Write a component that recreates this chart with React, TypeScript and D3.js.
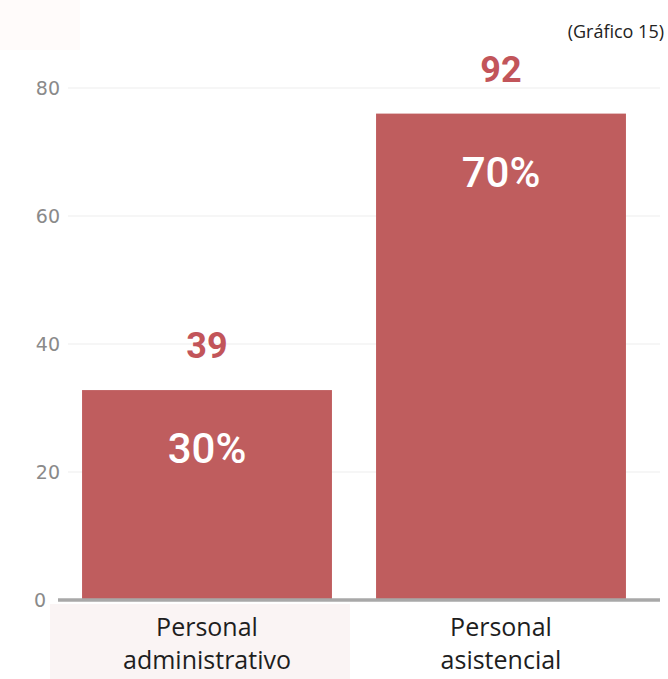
import React from "react";
import * as d3 from "d3";

const categories = ["Personal administrativo", "Personal asistencial"];
const barValues = [32.8, 76];
const countLabels = ["39", "92"];
const percentLabels = ["30%", "70%"];
const yTicks = [0, 20, 40, 60, 80];

const W = 668;
const H = 679;

export default function App() {
  const y = d3.scaleLinear().domain([0, 80]).range([600, 88]);
  const x = d3
    .scaleBand<string>()
    .domain(categories)
    .range([60, 648])
    .paddingInner(0.15)
    .paddingOuter(0.075);
  const barColor = "#bf5d5e";
  return (
    <svg
      width={W}
      height={H}
      style={{ position: "absolute", left: 0, top: 0, background: "#fff" }}
    >
      <rect x={50} y={604} width={300} height={75} fill="#faf4f4" />
      <rect x={0} y={0} width={80} height={50} fill="#fffbfa" />
      {yTicks.map((t) => (
        <g key={t}>
          {t > 0 && (
            <line
              x1={68}
              x2={660}
              y1={y(t)}
              y2={y(t)}
              stroke="#f3f3f3"
              strokeWidth={1.5}
            />
          )}
          <text
            x={t === 0 ? 46 : 60}
            y={y(t)}
            dy="0.35em"
            textAnchor="end"
            fontFamily="'DejaVu Sans', sans-serif"
            fontSize={19}
            fill="#8a8a8a"
          >
            {t}
          </text>
        </g>
      ))}
      {categories.map((c, i) => {
        const bx = x(c)!;
        const bw = x.bandwidth();
        const top = y(barValues[i]);
        const cx = bx + bw / 2;
        const words = c.split(" ");
        return (
          <g key={c}>
            <rect x={bx} y={top} width={bw} height={y(0) - top} fill={barColor} />
            <text
              x={cx}
              y={top - 32}
              textAnchor="middle"
              fontFamily="Roboto, sans-serif"
              fontWeight={700}
              fontSize={36}
              fill="#c2555a"
            >
              {countLabels[i]}
            </text>
            <text
              x={cx}
              y={top + 73}
              textAnchor="middle"
              fontFamily="Roboto, sans-serif"
              fontWeight={500}
              fontSize={42}
              fill="#ffffff"
            >
              {percentLabels[i]}
            </text>
            {words.map((w, j) => (
              <text
                key={j}
                x={cx}
                y={636 + j * 33}
                textAnchor="middle"
                fontFamily="'Open Sans', sans-serif"
                fontSize={25}
                fill="#1e1e1e"
              >
                {w}
              </text>
            ))}
          </g>
        );
      })}
      <line x1={58} x2={660} y1={y(0)} y2={y(0)} stroke="#a8a8a8" strokeWidth={3.5} />
      <text
        x={664}
        y={38}
        textAnchor="end"
        fontFamily="'Open Sans', sans-serif"
        fontSize={18}
        fill="#222"
      >
        (Gráfico 15)
      </text>
    </svg>
  );
}
